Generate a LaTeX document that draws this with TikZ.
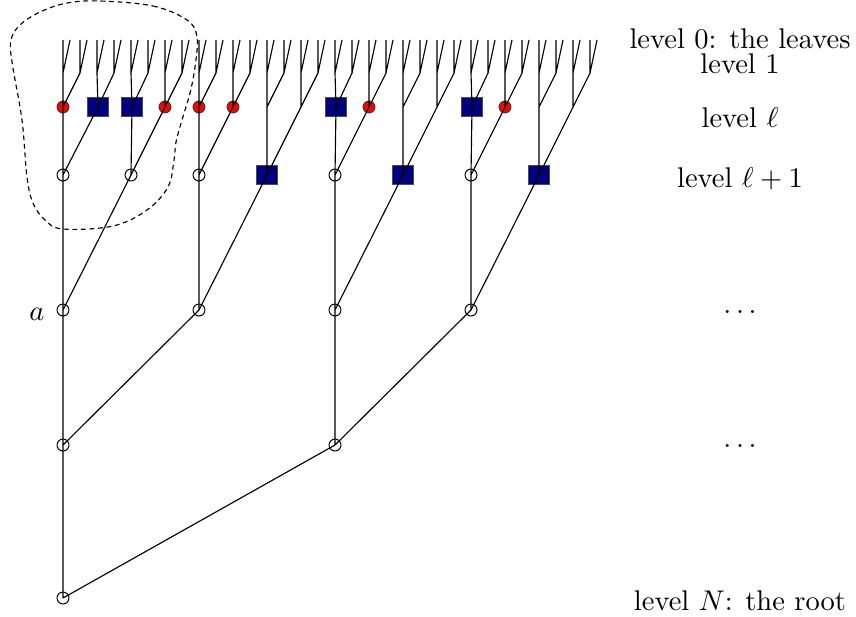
\documentclass[tikz,border=0pt]{standalone}
\begin{document}
\begin{tikzpicture}[x=0.351pt,y=-0.351pt,
  opennode/.style={circle,draw,inner sep=0pt,minimum size=4.2pt,line width=0.35pt},
  rednode/.style={circle,draw=black!80,fill=red,inner sep=0pt,minimum size=4.2pt,line width=0.3pt},
  bluenode/.style={rectangle,draw=black!70,fill=navyblue,inner sep=0pt,minimum width=7.1pt,minimum height=6.7pt,line width=0.3pt},
  treeedge/.style={line width=0.4pt,black},
  lbl/.style={anchor=base,inner sep=0pt},
  region/.style={line width=0.4pt,dash pattern=on 1.7pt off 1.3pt}]
\definecolor{navyblue}{RGB}{0,0,128}
\useasboundingbox (0,0) rectangle (856,616);
% level 0: leaves
\foreach \k in {0,...,63}{
  \pgfmathsetmacro\xx{63+17*floor(\k/2)+7*mod(\k,2)}
  \coordinate (n0-\k) at (\xx,40);
}
% level 1
\foreach \j in {0,...,31}{
  \coordinate (n1-\j) at ({63+17*\j},73);
}
% level 2 (level l)
\foreach \i in {6,7,10,11,14,15}{ \coordinate (n2-\i) at ({63+34*\i},107); }
\foreach \i in {0,3,4,5,9,13}{ \node[rednode] (n2-\i) at ({63+34*\i},107) {}; }
\foreach \i in {1,2,8,12}{ \node[bluenode] (n2-\i) at ({63+34*\i+1},107) {}; }
% level 3 (level l+1)
\foreach \i in {0,1,2,4,6}{ \node[opennode] (n3-\i) at ({63+68*\i},175) {}; }
\foreach \i in {3,5,7}{ \node[bluenode] (n3-\i) at ({63+68*\i},175) {}; }
% level 4
\foreach \i in {0,...,3}{ \node[opennode] (n4-\i) at ({63+136*\i},310) {}; }
% level 5
\foreach \i in {0,1}{ \node[opennode] (n5-\i) at ({63+272*\i},445) {}; }
% level 6: root
\node[opennode] (n6-0) at (63,598) {};
% edges
\foreach \L in {1,...,6}{
  \pgfmathtruncatemacro\nmax{2^(6-\L)-1}
  \pgfmathtruncatemacro\Lm{\L-1}
  \foreach \i in {0,...,\nmax}{
    \pgfmathtruncatemacro\ca{2*\i}
    \pgfmathtruncatemacro\cb{2*\i+1}
    \draw[treeedge] (n\L-\i.center) -- (n\Lm-\ca.center)
                    (n\L-\i.center) -- (n\Lm-\cb.center);
  }
}
% dashed region
\draw[region] plot[smooth cycle,tension=0.6] coordinates {
  (100,1) (153,6) (187,20) (197,37) (195,67) (190,93) (182,120) (176,142)
  (174,160) (168,187) (147,210) (113,226) (63,229) (45,220) (33,203)
  (27,177) (22,120) (12,62) (11,40) (20,25) (40,12) (67,3)};
% labels
\node[lbl] (t0) at (740,48) {level 0: the leaves};
\node[lbl] (t1) at (740,73) {level 1};
\node[lbl] (tl) at (740,127) {level $\ell$};
\node[lbl] (tl1) at (740,187) {level $\ell+1$};
\node[lbl] (td1) at (740,313) {$\dots$};
\node[lbl] (td2) at (740,447) {$\dots$};
\node[lbl] (tN) at (740,610) {level $N$: the root};
\node[lbl] (ta) at (37,320) {$a$};
\end{tikzpicture}
\end{document}
